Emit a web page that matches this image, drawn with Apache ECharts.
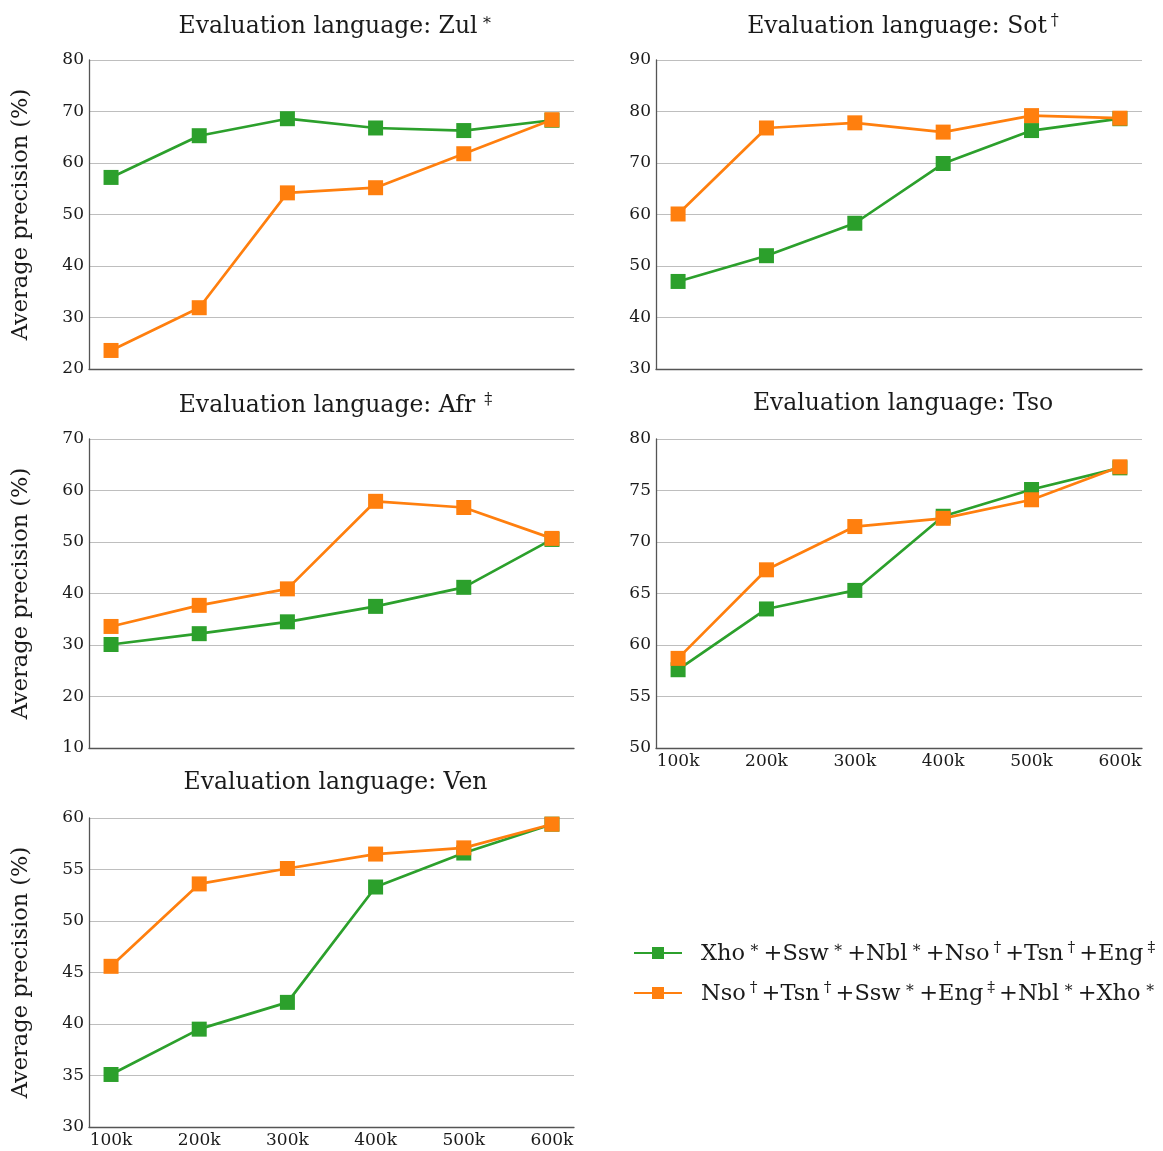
<!DOCTYPE html>
<html>
<head>
<meta charset="utf-8">
<script src="https://cdn.jsdelivr.net/npm/echarts@6/dist/echarts.min.js"></script>
<style>html,body{margin:0;padding:0;background:#fff}#c{width:1163px;height:1151px}</style>
</head>
<body>
<div id="c"></div>
<script>
const categories = ['100k', '200k', '300k', '400k', '500k', '600k'];
const seriesNames = ['Xho*+Ssw*+Nbl*+Nso†+Tsn†+Eng‡', 'Nso†+Tsn†+Ssw*+Eng‡+Nbl*+Xho*'];

const zulGreen = [57.2, 65.3, 68.6, 66.8, 66.3, 68.3];
const zulOrange = [23.6, 31.9, 54.2, 55.2, 61.8, 68.4];
const sotGreen = [47.0, 52.0, 58.3, 69.9, 76.3, 78.6];
const sotOrange = [60.1, 76.8, 77.8, 76.0, 79.2, 78.7];
const afrGreen = [30.1, 32.2, 34.5, 37.5, 41.2, 50.5];
const afrOrange = [33.6, 37.7, 40.9, 57.9, 56.7, 50.7];
const tsoGreen = [57.6, 63.5, 65.3, 72.5, 75.1, 77.2];
const tsoOrange = [58.7, 67.3, 71.5, 72.3, 74.1, 77.3];
const venGreen = [35.1, 39.5, 42.1, 53.3, 56.6, 59.4];
const venOrange = [45.6, 53.6, 55.1, 56.5, 57.1, 59.4];

const panelTitles = ['Zul', 'Sot', 'Afr', 'Tso', 'Ven'];
const panelMarks = ['∗', '†', ' ‡', '', ''];
const yMins = [20, 30, 10, 50, 30];
const yMaxs = [80, 90, 70, 80, 60];
const yIntervals = [10, 10, 10, 5, 5];

const greenData = [zulGreen, sotGreen, afrGreen, tsoGreen, venGreen];
const orangeData = [zulOrange, sotOrange, afrOrange, tsoOrange, venOrange];

const GREEN = '#2ca02c', ORANGE = '#ff7f0e';
const FONT = '"DejaVu Serif", serif';
const TXT = '#1a1a1a';

const grids = [
  {left: 89, top: 60, width: 485, height: 309},
  {left: 656, top: 60, width: 486, height: 309},
  {left: 89, top: 439, width: 485, height: 309},
  {left: 656, top: 439, width: 486, height: 309},
  {left: 89, top: 818, width: 485, height: 309}
];
const showX = [false, false, false, true, true];
const showYName = [true, false, true, false, true];

const toPairs = arr => arr.map((v, i) => [i + 1, v]);

const titles = grids.map((g, i) => ({
  text: '{t|Evaluation language: ' + panelTitles[i] + '}' + (panelMarks[i] ? '{s|' + panelMarks[i] + '}' : ''),
  left: g.left + g.width / 2 - 1,
  textAlign: 'center',
  top: g.top - 52,
  textStyle: {
    fontFamily: FONT, color: TXT, fontWeight: 'normal',
    rich: {
      t: {fontFamily: FONT, fontSize: 23.5, color: TXT, fontWeight: 'normal', verticalAlign: 'bottom'},
      s: {fontFamily: FONT, fontSize: 16, color: TXT, fontWeight: 'normal', verticalAlign: 'top', padding: [0, 0, 10, 4]}
    }
  }
}));

const xAxes = grids.map((g, i) => ({
  type: 'value', gridIndex: i, min: 0.75, max: 6.25,
  axisLine: {show: true, onZero: false, lineStyle: {color: '#555', width: 1.3}},
  axisTick: {show: false},
  splitLine: {show: false},
  axisLabel: {
    show: showX[i], customValues: [1, 2, 3, 4, 5, 6],
    formatter: v => categories[Math.round(v) - 1] || '',
    fontFamily: FONT, fontSize: 17, color: TXT, margin: 5
  }
}));

const yAxes = grids.map((g, i) => ({
  type: 'value', gridIndex: i, min: yMins[i], max: yMaxs[i], interval: yIntervals[i],
  name: showYName[i] ? 'Average precision (%)' : '',
  nameLocation: 'middle', nameRotate: 90, nameGap: 56,
  nameTextStyle: {fontFamily: FONT, fontSize: 22.5, color: TXT},
  axisLine: {show: true, lineStyle: {color: '#555', width: 1.3}},
  axisTick: {show: false},
  splitLine: {show: true, lineStyle: {color: '#bebebe', width: 1}},
  axisLabel: {fontFamily: FONT, fontSize: 17, color: TXT, margin: 5}
}));

const series = [];
grids.forEach((g, i) => {
  series.push({
    name: seriesNames[0], type: 'line', xAxisIndex: i, yAxisIndex: i,
    data: toPairs(greenData[i]), symbol: 'rect', symbolSize: 15,
    itemStyle: {color: GREEN}, lineStyle: {color: GREEN, width: 2.7}, z: 2, animation: false
  });
  series.push({
    name: seriesNames[1], type: 'line', xAxisIndex: i, yAxisIndex: i,
    data: toPairs(orangeData[i]), symbol: 'rect', symbolSize: 15,
    itemStyle: {color: ORANGE}, lineStyle: {color: ORANGE, width: 2.7}, z: 3, animation: false
  });
});

const legendRich = {
  g: {width: 14},
  n: {fontFamily: FONT, fontSize: 22.5, color: TXT, verticalAlign: 'bottom'},
  s: {fontFamily: FONT, fontSize: 15.5, color: TXT, verticalAlign: 'top', padding: [0, 4, 10, 4]}
};
function richName(name) {
  let out = '{g|}';
  let buf = '';
  for (const ch of name) {
    if (ch === '*' || ch === '†' || ch === '‡') {
      if (buf) { out += '{n|' + buf + '}'; buf = ''; }
      out += '{s|' + (ch === '*' ? '∗' : ch) + '}';
    } else buf += ch;
  }
  if (buf) out += '{n|' + buf + '}';
  return out;
}

const chart = echarts.init(document.getElementById('c'), null, {renderer: 'canvas'});
chart.setOption({
  animation: false,
  backgroundColor: '#fff',
  title: titles,
  grid: grids,
  xAxis: xAxes,
  yAxis: yAxes,
  series: series,
  legend: {
    orient: 'vertical', left: 628, top: 935,
    itemWidth: 48, itemHeight: 15, itemGap: 14,
    data: seriesNames,
    formatter: name => richName(name),
    textStyle: {fontFamily: FONT, fontSize: 22.5, color: TXT, rich: legendRich}
  }
});
</script>
</body>
</html>
